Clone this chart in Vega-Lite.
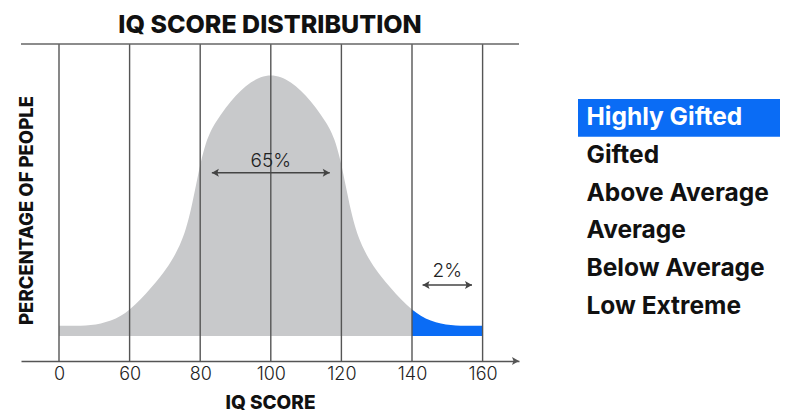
{
  "$schema": "https://vega.github.io/schema/vega-lite/v6.json",
  "width": 776,
  "height": 317,
  "autosize": {"type": "none"},
  "padding": {"left": 21, "top": 44, "right": 0, "bottom": 59},
  "background": "white",
  "config": {"view": {"stroke": null}, "font": "Inter"},
  "title": {"text": "IQ SCORE DISTRIBUTION", "anchor": "middle", "dx": -139, "fontSize": 25, "fontWeight": 800, "font": "Inter", "color": "#111111", "offset": 5},
  "datasets": {
    "curve": [
      {"iq": 0, "pct": 3.95, "region": "Up to 140"},
      {"iq": 18.5, "pct": 3.95, "region": "Up to 140"},
      {"iq": 27.0, "pct": 4.2, "region": "Up to 140"},
      {"iq": 35.5, "pct": 4.82, "region": "Up to 140"},
      {"iq": 44.0, "pct": 5.91, "region": "Up to 140"},
      {"iq": 52.5, "pct": 7.74, "region": "Up to 140"},
      {"iq": 60, "pct": 10.17, "region": "Up to 140"},
      {"iq": 63.17, "pct": 14.17, "region": "Up to 140"},
      {"iq": 66.0, "pct": 18.39, "region": "Up to 140"},
      {"iq": 68.84, "pct": 22.99, "region": "Up to 140"},
      {"iq": 71.67, "pct": 28.46, "region": "Up to 140"},
      {"iq": 73.09, "pct": 31.82, "region": "Up to 140"},
      {"iq": 74.5, "pct": 35.85, "region": "Up to 140"},
      {"iq": 75.92, "pct": 41.13, "region": "Up to 140"},
      {"iq": 77.34, "pct": 48.43, "region": "Up to 140"},
      {"iq": 78.75, "pct": 57.45, "region": "Up to 140"},
      {"iq": 80.17, "pct": 66.56, "region": "Up to 140"},
      {"iq": 81.59, "pct": 73.76, "region": "Up to 140"},
      {"iq": 83.0, "pct": 78.56, "region": "Up to 140"},
      {"iq": 84.42, "pct": 82.02, "region": "Up to 140"},
      {"iq": 85.84, "pct": 84.93, "region": "Up to 140"},
      {"iq": 88.67, "pct": 90.02, "region": "Up to 140"},
      {"iq": 91.5, "pct": 94.15, "region": "Up to 140"},
      {"iq": 94.33, "pct": 97.31, "region": "Up to 140"},
      {"iq": 97.17, "pct": 99.33, "region": "Up to 140"},
      {"iq": 100, "pct": 100, "region": "Up to 140"},
      {"iq": 102.83, "pct": 99.33, "region": "Up to 140"},
      {"iq": 105.67, "pct": 97.31, "region": "Up to 140"},
      {"iq": 108.5, "pct": 94.15, "region": "Up to 140"},
      {"iq": 111.33, "pct": 90.02, "region": "Up to 140"},
      {"iq": 114.16, "pct": 84.93, "region": "Up to 140"},
      {"iq": 115.58, "pct": 82.02, "region": "Up to 140"},
      {"iq": 117.0, "pct": 78.56, "region": "Up to 140"},
      {"iq": 118.41, "pct": 73.76, "region": "Up to 140"},
      {"iq": 119.83, "pct": 66.56, "region": "Up to 140"},
      {"iq": 121.25, "pct": 57.45, "region": "Up to 140"},
      {"iq": 122.66, "pct": 48.43, "region": "Up to 140"},
      {"iq": 124.08, "pct": 41.13, "region": "Up to 140"},
      {"iq": 125.5, "pct": 35.85, "region": "Up to 140"},
      {"iq": 126.91, "pct": 31.82, "region": "Up to 140"},
      {"iq": 128.33, "pct": 28.46, "region": "Up to 140"},
      {"iq": 131.16, "pct": 22.99, "region": "Up to 140"},
      {"iq": 134.0, "pct": 18.39, "region": "Up to 140"},
      {"iq": 136.83, "pct": 14.17, "region": "Up to 140"},
      {"iq": 140, "pct": 10.17, "region": "Up to 140"},
      {"iq": 140, "pct": 10.17, "region": "Highly Gifted"},
      {"iq": 142.5, "pct": 7.74, "region": "Highly Gifted"},
      {"iq": 145.3, "pct": 5.91, "region": "Highly Gifted"},
      {"iq": 148.2, "pct": 4.82, "region": "Highly Gifted"},
      {"iq": 151.0, "pct": 4.2, "region": "Highly Gifted"},
      {"iq": 153.8, "pct": 3.95, "region": "Highly Gifted"},
      {"iq": 160, "pct": 3.95, "region": "Highly Gifted"}
    ],
    "ticks": [{"iq": 0}, {"iq": 60}, {"iq": 80}, {"iq": 100}, {"iq": 120}, {"iq": 140}, {"iq": 160}],
    "notes": [
      {"label": "65%", "from": 83.3, "to": 116.7, "mid": 100, "level": 62.7, "textLevel": 65.0},
      {"label": "2%", "from": 143, "to": 157, "mid": 150, "level": 19.6, "textLevel": 22.5}
    ],
    "categories": [
      {"category": "Highly Gifted"},
      {"category": "Gifted"},
      {"category": "Above Average"},
      {"category": "Average"},
      {"category": "Below Average"},
      {"category": "Low Extreme"}
    ]
  },
  "layer": [
    {
      "layer": [
        {
          "data": {"name": "curve"},
          "mark": {"type": "area", "interpolate": "monotone"},
          "encoding": {
            "x": {
              "field": "iq", "type": "quantitative",
              "scale": {"domain": [-32.3, 0, 60, 80, 100, 120, 140, 160, 170.3], "range": [0, 38, 108.6, 179.2, 249.8, 320.4, 391, 461.6, 498], "nice": false, "zero": false},
              "axis": {
                "values": [0, 60, 80, 100, 120, 140, 160], "title": "IQ SCORE", "ticks": false, "grid": false,
                "domain": true, "domainColor": "#555555", "domainWidth": 1.5,
                "labelFontSize": 18, "labelFont": "Inter", "labelFontWeight": 300, "labelColor": "#222222", "labelPadding": 4,
                "labelFlush": false, "labelOverlap": false,
                "titleFontSize": 19, "titleFontWeight": 800, "titleFont": "Inter", "titleColor": "#111111", "titlePadding": 10
              }
            },
            "y": {
              "field": "pct", "type": "quantitative",
              "scale": {"domain": [-9.6, 112.1], "nice": false, "zero": false},
              "axis": {
                "title": "PERCENTAGE OF PEOPLE", "labels": false, "ticks": false, "domain": false, "grid": false,
                "titleFontSize": 18.5, "titleFontWeight": 800, "titleFont": "Inter", "titleColor": "#111111",
                "titleX": 11, "titleY": 166, "titleBaseline": "alphabetic", "titleAngle": -90, "titleAlign": "center"
              }
            },
            "y2": {"datum": 0},
            "color": {"field": "region", "type": "nominal", "scale": {"domain": ["Up to 140", "Highly Gifted"], "range": ["#c8c9cb", "#0a6cf5"]}, "legend": null}
          }
        },
        {
          "data": {"name": "ticks"},
          "mark": {"type": "rule", "color": "#555555", "strokeWidth": 1.4},
          "encoding": {"x": {"field": "iq", "type": "quantitative"}}
        },
        {
          "data": {"values": [{}]},
          "mark": {"type": "rule", "color": "#666666", "strokeWidth": 1.4},
          "encoding": {"y": {"datum": 112.1}, "x": {"datum": -32.3}, "x2": {"datum": 170.3}}
        },
        {
          "data": {"values": [{}]},
          "mark": {"type": "point", "shape": "M0,0L-1.4,-0.8L-1.1,0L-1.4,0.8Z", "size": 100, "filled": true, "color": "#555555", "opacity": 1},
          "encoding": {"x": {"datum": 170.3}, "y": {"datum": -9.6}}
        },
        {
          "data": {"name": "notes"},
          "mark": {"type": "rule", "color": "#444444", "strokeWidth": 1.5},
          "encoding": {"x": {"field": "from", "type": "quantitative"}, "x2": {"field": "to"}, "y": {"field": "level", "type": "quantitative"}}
        },
        {
          "data": {"name": "notes"},
          "mark": {"type": "point", "shape": "M0,0L1.4,-0.8L1.1,0L1.4,0.8Z", "size": 100, "filled": true, "color": "#444444", "opacity": 1},
          "encoding": {"x": {"field": "from", "type": "quantitative"}, "y": {"field": "level", "type": "quantitative"}}
        },
        {
          "data": {"name": "notes"},
          "mark": {"type": "point", "shape": "M0,0L-1.4,-0.8L-1.1,0L-1.4,0.8Z", "size": 100, "filled": true, "color": "#444444", "opacity": 1},
          "encoding": {"x": {"field": "to", "type": "quantitative"}, "y": {"field": "level", "type": "quantitative"}}
        },
        {
          "data": {"name": "notes"},
          "mark": {"type": "text", "fontSize": 19, "fontWeight": 300, "font": "Inter", "color": "#222222", "baseline": "alphabetic", "align": "center"},
          "encoding": {"x": {"field": "mid", "type": "quantitative"}, "y": {"field": "textLevel", "type": "quantitative"}, "text": {"field": "label"}}
        }
      ]
    },
    {
      "data": {"name": "categories"},
      "layer": [
        {
          "transform": [{"filter": "datum.category === 'Highly Gifted'"}],
          "mark": {"type": "rect", "color": "#0a6cf5"},
          "encoding": {
            "x": {"datum": 0, "type": "quantitative", "scale": {"domain": [0, 1], "range": [557, 759], "nice": false, "zero": false}, "axis": null},
            "x2": {"datum": 1},
            "y": {"field": "category", "type": "nominal", "sort": null, "scale": {"type": "band", "domain": ["Highly Gifted", "Gifted", "Above Average", "Average", "Below Average", "Low Extreme"], "range": [55, 282], "paddingInner": 0, "paddingOuter": 0}, "axis": null}
          }
        },
        {
          "mark": {"type": "text", "align": "left", "baseline": "middle", "dx": 8.5, "fontSize": 24.5, "fontWeight": 700, "font": "Inter"},
          "encoding": {
            "x": {"datum": 0, "type": "quantitative"},
            "y": {"field": "category", "type": "nominal", "sort": null},
            "text": {"field": "category"},
            "color": {"condition": {"test": "datum.category === 'Highly Gifted'", "value": "white"}, "value": "#111111"}
          }
        }
      ]
    }
  ],
  "resolve": {"scale": {"x": "independent", "y": "independent"}}
}
